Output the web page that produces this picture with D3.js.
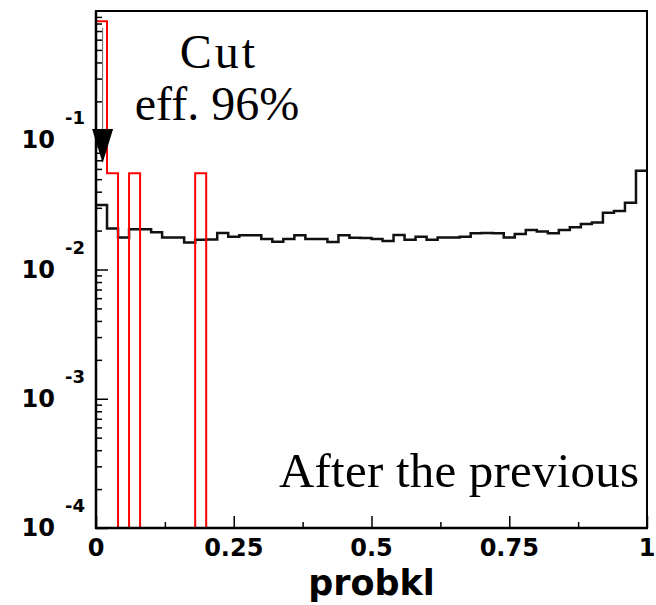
<!DOCTYPE html>
<html>
<head>
<meta charset="utf-8">
<script src="https://cdn.jsdelivr.net/npm/d3@7"></script>
<style>
html,body{margin:0;padding:0;background:#fff;}
svg{display:block;}
</style>
</head>
<body>
<svg id="c" width="656" height="605"></svg>
<script>
// ---- data ----
const binLowEdges = [0.00,0.02,0.04,0.06,0.08,0.10,0.12,0.14,0.16,0.18,
  0.20,0.22,0.24,0.26,0.28,0.30,0.32,0.34,0.36,0.38,
  0.40,0.42,0.44,0.46,0.48,0.50,0.52,0.54,0.56,0.58,
  0.60,0.62,0.64,0.66,0.68,0.70,0.72,0.74,0.76,0.78,
  0.80,0.82,0.84,0.86,0.88,0.90,0.92,0.94,0.96,0.98];
const binWidth = 0.02;
const beforeCut = [0.0316,0.0208,0.0177,0.0205,0.0205,0.0194,0.0177,0.0177,0.0162,0.0170,
  0.0171,0.0192,0.0179,0.0184,0.0184,0.0172,0.0164,0.0172,0.0184,0.0172,
  0.0172,0.0163,0.0184,0.0176,0.0175,0.0172,0.0166,0.0185,0.0170,0.0179,
  0.0170,0.0177,0.0177,0.0179,0.0191,0.0192,0.0191,0.0177,0.0188,0.0202,
  0.0197,0.0191,0.0202,0.0212,0.0225,0.0231,0.0275,0.0283,0.0328,0.0581];
const rejected = [0.833,0.0556,0,0.0556,0,0,0,0,0,0.0556,
  0,0,0,0,0,0,0,0,0,0,
  0,0,0,0,0,0,0,0,0,0,
  0,0,0,0,0,0,0,0,0,0,
  0,0,0,0,0,0,0,0,0,0];
const xMajorTicks = [0,0.25,0.5,0.75,1];
const xMinorTicks = [0.125,0.375,0.625,0.875];
const xTickLabels = ["0","0.25","0.5","0.75","1"];
const yMajorExp = [-4,-3,-2,-1];
const yMinorMult = [2,3,4,5,6,7,8,9];
const xTitle = "probkl";
const cutValue = 0.012;
const textCut = ["Cut","eff. 96%"];
const textAfter = "After the previous";

// ---- layout ----
const L=96, R=647, T=11, B=528;
const x = d3.scaleLinear().domain([0,1]).range([L,R]);
const y = d3.scaleLog().domain([1e-4,1]).range([B,T]);
const svg = d3.select("#c");

svg.append("defs").append("clipPath").attr("id","clip")
  .append("rect").attr("x",L).attr("y",T).attr("width",R-L).attr("height",B-T);

function stepPath(vals, fromBottom){
  const p = d3.path();
  const yy = v => v>0 ? Math.min(y(v),B) : B;
  if(fromBottom){ p.moveTo(x(binLowEdges[0]),B); p.lineTo(x(binLowEdges[0]),yy(vals[0])); }
  else p.moveTo(x(binLowEdges[0]),yy(vals[0]));
  vals.forEach((v,i)=>{
    const x0=x(binLowEdges[i]), x1=x(binLowEdges[i]+binWidth);
    if(i>0) p.lineTo(x0,yy(v));
    p.lineTo(x1,yy(v));
  });
  if(fromBottom) p.lineTo(x(binLowEdges[vals.length-1]+binWidth),B);
  return p.toString();
}

const g = svg.append("g").attr("clip-path","url(#clip)");
g.append("path").attr("d",stepPath(beforeCut,false))
  .attr("fill","none").attr("stroke","#111").attr("stroke-width",2.5);
g.append("path").attr("d",stepPath(rejected,true))
  .attr("fill","none").attr("stroke","#ff0000").attr("stroke-width",2);

// frame
svg.append("rect").attr("x",L).attr("y",T).attr("width",R-L).attr("height",B-T)
  .attr("fill","none").attr("stroke","#000").attr("stroke-width",2);

// axes ticks
const yMinor=[]; yMajorExp.forEach(e=>yMinorMult.forEach(m=>yMinor.push(m*Math.pow(10,e))));
const yMajor=yMajorExp.map(e=>Math.pow(10,e));
function styleAxis(sel){sel.select(".domain").remove(); sel.selectAll("line").attr("stroke","#000").attr("stroke-width",1.5);}
svg.append("g").attr("transform",`translate(${L},0)`)
  .call(d3.axisRight(y).tickValues(yMinor).tickSize(6).tickFormat("")).call(styleAxis);
svg.append("g").attr("transform",`translate(${L},0)`)
  .call(d3.axisRight(y).tickValues(yMajor).tickSize(12).tickFormat("")).call(styleAxis);
svg.append("g").attr("transform",`translate(0,${B})`)
  .call(d3.axisTop(x).tickValues(xMinorTicks).tickSize(6).tickFormat("")).call(styleAxis);
svg.append("g").attr("transform",`translate(0,${B})`)
  .call(d3.axisTop(x).tickValues(xMajorTicks).tickSize(12).tickFormat("")).call(styleAxis);

// axis lines
svg.append("line").attr("x1",L).attr("x2",L).attr("y1",T).attr("y2",B+1).attr("stroke","#000").attr("stroke-width",2.5);
svg.append("line").attr("x1",L-1).attr("x2",R+1).attr("y1",B).attr("y2",B).attr("stroke","#000").attr("stroke-width",2.5);

// y tick labels
const fontB = "'DejaVu Sans', sans-serif";
yMajorExp.forEach(e=>{
  const yy = y(Math.pow(10,e));
  svg.append("text").attr("x",55).attr("y",yy+8).attr("text-anchor","end")
    .attr("font-family",fontB).attr("font-weight","bold").attr("font-size",24).text("10");
  svg.append("text").attr("x",65).attr("y",yy-16).attr("text-anchor","start")
    .attr("font-family",fontB).attr("font-weight","bold").attr("font-size",18).text(String(e));
});
// x tick labels
xMajorTicks.forEach((t,i)=>{
  svg.append("text").attr("x",x(t)).attr("y",556).attr("text-anchor","middle")
    .attr("font-family",fontB).attr("font-weight","bold").attr("font-size",24).text(xTickLabels[i]);
});
svg.append("text").attr("x",x(0.5)).attr("y",595).attr("text-anchor","middle")
  .attr("font-family",fontB).attr("font-weight","bold").attr("font-size",35).text(xTitle);

// annotations
const fontS = "'Liberation Serif', 'Times New Roman', serif";
svg.append("text").attr("x",219).attr("y",68).attr("text-anchor","middle")
  .attr("font-family",fontS).attr("font-size",48).attr("letter-spacing",3).text(textCut[0]);
svg.append("text").attr("x",217).attr("y",120).attr("text-anchor","middle")
  .attr("font-family",fontS).attr("font-size",48).text(textCut[1]);
svg.append("text").attr("x",639).attr("y",487).attr("text-anchor","end")
  .attr("font-family",fontS).attr("font-size",49).attr("textLength",360).text(textAfter);

// arrow at cut
const ax = x(cutValue);
svg.append("line").attr("x1",ax).attr("x2",ax).attr("y1",28).attr("y2",130)
  .attr("stroke","#666").attr("stroke-width",1);
svg.append("path").attr("d",`M${ax-10.5},129 L${ax+10.5},129 L${ax},163 Z`).attr("fill","#000");
</script>
</body>
</html>
